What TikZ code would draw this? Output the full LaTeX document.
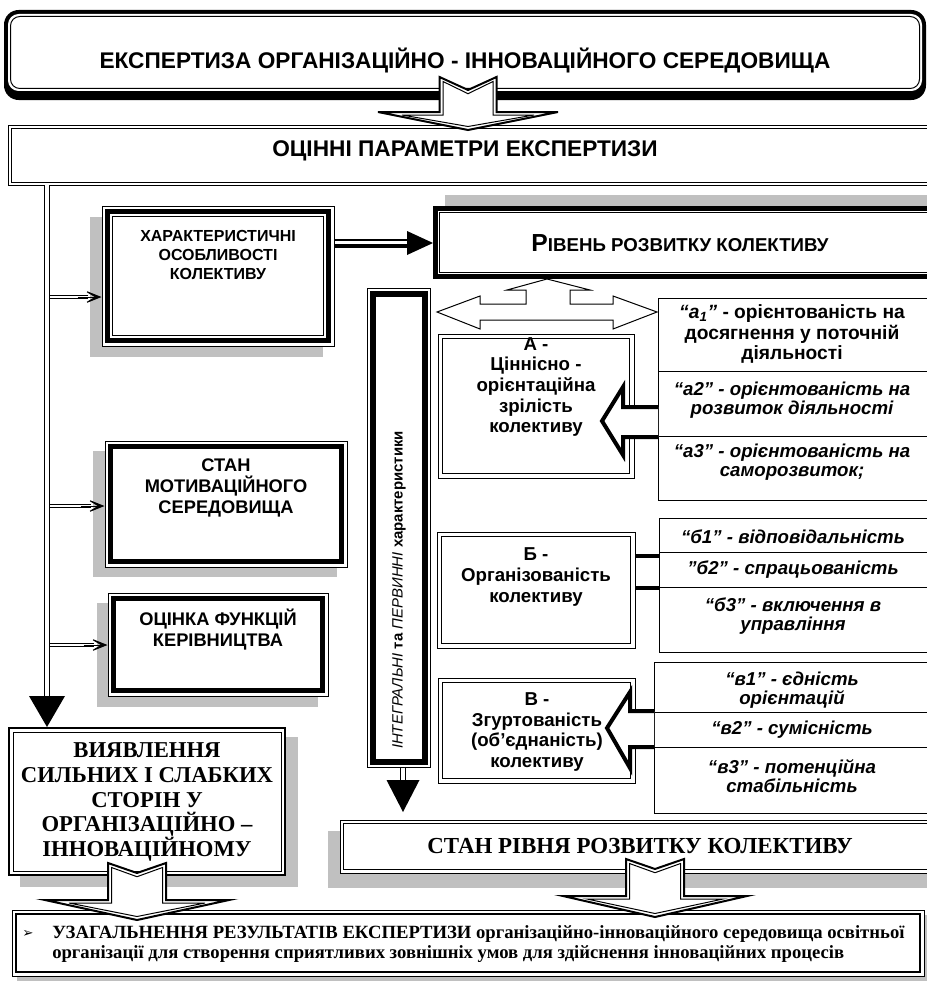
\documentclass[tikz,border=0pt]{standalone}
\usepackage{fontspec}
\setmainfont{Liberation Sans}
\newfontfamily\tms{Liberation Serif}
\newfontfamily\djv{DejaVu Sans}
\usetikzlibrary{fit,calc,arrows.meta}
\definecolor{shgray}{RGB}{192,192,192}
\newcommand\myfs[2]{\fontsize{#1}{#2}\selectfont}
\newcommand\inbox[3]{\draw[#3] ($(#1.north west)+(#2,#2)$) rectangle ($(#1.south east)+(-#2,-#2)$);}
\newcommand\blockdown[7]{%
  \draw[blk] ({#1-#6},#2) -- (#1,{#2+#3}) -- ({#1+#6},#2) -- ({#1+#6},#4) -- ({#1+#7},#4) -- (#1,#5) -- ({#1-#7},#4) -- ({#1-#6},#4) -- cycle;
  \draw[tl] ({#1-#6+3.5},{#2+4.5}) -- (#1,{#2+#3+3.7}) -- ({#1+#6-3.5},{#2+4.5}) -- ({#1+#6-3.5},{#4+3}) -- ({#1+#7-24},{#4+3}) -- (#1,{#5-3.5}) -- ({#1-#7+24},{#4+3}) -- ({#1-#6+3.5},{#4+3}) -- cycle;}
\begin{document}
\begin{tikzpicture}[x=0.75pt,y=-0.75pt,line join=miter,
  bx/.style={inner sep=0pt,draw,line width=0.75pt},
  tl/.style={line width=0.75pt},
  hv/.style={line width=3pt},
  shd/.style={fill=shgray},
  blk/.style={fill=white,draw,line width=1.5pt},
  dbl/.style={draw,line width=0.75pt,double,double distance=2.2pt},
  dbltr/.style={draw,line width=0.8pt,double,double distance=3pt},
  brtip/.style={-{Stealth[length=15pt,width=12pt,inset=10pt]},line width=0.75pt},
  hd/.style={font=\bfseries\myfs{17}{20},inner sep=0pt},
  captx/.style={font=\bfseries\myfs{13.7}{15.5},align=center,inner sep=0pt},
  bt/.style={font=\bfseries\myfs{14}{15.4},align=center,inner sep=0pt},
  tt/.style={font=\bfseries\myfs{14.4}{15.2},align=center,inner sep=0pt},
  tti/.style={font=\bfseries\itshape\myfs{14}{14.6},align=center,inner sep=0pt}]
\useasboundingbox (0,0) rectangle (926,981);
% shadows
\fill[shd] (90,217) rectangle (323,357);
\fill[shd] (445,195) rectangle (940,268);
\fill[shd] (93,451) rectangle (337,577);
\fill[shd] (97,603) rectangle (318,707);
\fill[shd] (20,737) rectangle (298,887);
\fill[shd] (328,831) rectangle (940,888);
\fill[shd] (17,915) rectangle (940,990);
% top box
\fill[rounded corners=11pt] (4,10) rectangle (926,100);
\fill[white,rounded corners=8pt] (8,14) rectangle (922,91);
\draw[tl,rounded corners=7pt] (10.5,16.5) rectangle (919.5,88.5);
\node[fit={(4,10)(926,100)},inner sep=0pt] (top) {};
\node[hd] (toptx) at (465,60) {ЕКСПЕРТИЗА ОРГАНІЗАЦІЙНО - ІННОВАЦІЙНОГО СЕРЕДОВИЩА};
% assessment parameters
\node[bx,fill=white,fit={(8,125)(940,185)}] (ocin) {};
\inbox{ocin}{3.5}{tl}
\node[hd] (ocintx) at (465,151) {ОЦІННІ ПАРАМЕТРИ ЕКСПЕРТИЗИ};
% characteristic features
\node[bx,fill=white,fit={(102,206)(334,346)}] (hx) {};
\inbox{hx}{5.8}{line width=3.5pt}
\inbox{hx}{11}{tl}
\node[font=\bfseries\myfs{12}{14.6},align=center,inner sep=0pt] (hxtx) at (218,255) {ХАРАКТЕРИСТИЧНІ\\ОСОБЛИВОСТІ\\КОЛЕКТИВУ};
% level of development
\node[fill=white,draw,line width=3.75pt,inner sep=0pt,fit={(435.5,208.5)(945,276.5)}] (riv) {};
\inbox{riv}{6.5}{tl}
\node[font=\bfseries,inner sep=0pt] (rivtx) at (680,243) {{\myfs{18.5}{20}Р}{\myfs{14}{16}ІВЕНЬ РОЗВИТКУ КОЛЕКТИВУ}};
% arrow hx -> riv
\coordinate (h1) at (334,243);
\draw[line width=1pt] ($(hx.east |- h1)+(0,-3)$) -- ($(riv.west |- h1)+(-20,-3)$);
\draw[line width=3pt] ($(hx.east |- h1)+(0,2.5)$) -- ($(riv.west |- h1)+(-20,2.5)$);
\fill ($(riv.west |- h1)+(-26,-12)$) -- (riv.west |- h1) -- ($(riv.west |- h1)+(-26,12)$) -- cycle;
% integral box
\node[bx,fill=white,fit={(367,288)(430,767)}] (intg) {};
\inbox{intg}{6}{line width=4.5pt}
\node[rotate=90,font=\myfs{11.2}{13},inner sep=0pt] (intgtx) at (399,590) {\textit{ІНТЕГРАЛЬНІ} \textbf{та} \textit{ПЕРВИННІ} \textbf{характеристики}};
\coordinate (ia) at (403,812);
\draw[dbltr] (intg.south -| ia) -- ($(ia)+(0,-30)$);
\fill ($(ia)+(-16.5,-32)$) -- (ia) -- ($(ia)+(16.5,-32)$) -- cycle;
% double arrow under level box
\draw[tl,fill=white] (547,279) -- (590,290) -- (570,290) -- (570,304) -- (613,304) -- (613,296) -- (657,312) -- (613,329) -- (613,320) -- (480,320) -- (480,329) -- (437,312) -- (480,296) -- (480,304) -- (526,304) -- (526,290) -- (507,290) -- cycle;
% table a
\node[bx,fit={(658,298)(940,500)}] (atab) {};
\draw[tl] (658,371) -- (940,371);
\draw[tl] (658,436) -- (940,436);
\node[tt] (a1) at (792,334) {\textit{“а\textsubscript{1}”} - орієнтованість на\\досягнення у поточній\\діяльності};
\node[tti] (a2) at (792,400) {“а2” - орієнтованість на\\розвиток діяльності};
\node[tti] (a3) at (792,462) {“а3” - орієнтованість на\\саморозвиток;};
% box A
\node[bx,fill=white,fit={(438,334)(634,478)}] (A) {};
\inbox{A}{5}{line width=1pt}
\node[bt] (Atx) at (536,387) {А -\\Ціннісно -\\орієнтаційна\\зрілість\\колективу};
\draw[line width=3pt,fill=white] (658,407) -- (623,407) -- (623,387) -- (602,421) -- (623,455) -- (623,437) -- (658,437);
% box B
\node[bx,fill=white,fit={(437,532)(635,648)}] (B) {};
\inbox{B}{5}{line width=1.3pt}
\node[bt] (Btx) at (536,577) {Б -\\Організованість\\колективу};
\node[bx,fit={(659,518)(940,652)}] (btab) {};
\draw[tl] (659,552) -- (940,552);
\draw[tl] (659,587) -- (940,587);
\node[tti] (b1) at (793,537) {“б1” - відповідальність};
\node[tti] (b2) at (793,570) {"б2” - спрацьованість};
\node[tti] (b3) at (793,616) {“б3” - включення в\\управління};
\coordinate (bc1) at (640,556);
\coordinate (bc2) at (640,588);
\draw[hv] (B.east |- bc1) -- (btab.west |- bc1);
\draw[hv] (B.east |- bc2) -- (btab.west |- bc2);
% box V
\node[bx,fill=white,fit={(438,678)(635,783)}] (V) {};
\inbox{V}{5}{line width=1.3pt}
\node[bt] (Vtx) at (537,732) {В -\\Згуртованість\\(об'єднаність)\\колективу};
\node[bx,fit={(654,662)(940,813)}] (vtab) {};
\draw[tl] (654,712) -- (940,712);
\draw[tl] (654,747) -- (940,747);
\node[tti] (v1) at (792,690) {“в1” - єдність\\орієнтацій};
\node[tti] (v2) at (792,730) {“в2” - сумісність};
\node[tti] (v3) at (792,776) {“в3” - потенційна\\стабільність};
\draw[line width=3pt,fill=white] (654,711) -- (630,711) -- (630,692) -- (607,728) -- (630,768) -- (630,747) -- (654,747);
% left column
\node[bx,fill=white,fit={(105,441)(347,567)}] (mot) {};
\inbox{mot}{5.8}{line width=3.5pt}
\node[captx] (mottx) at (226,488) {СТАН\\МОТИВАЦІЙНОГО\\СЕРЕДОВИЩА};
\node[bx,fill=white,fit={(108,593)(328,696)}] (ocf) {};
\inbox{ocf}{6}{line width=3.5pt}
\node[captx] (ocftx) at (218,629.5) {ОЦІНКА ФУНКЦІЙ\\КЕРІВНИЦТВА};
% strengths and weaknesses
\node[draw,line width=1.5pt,fill=white,inner sep=0pt,fit={(9,728)(285,875)}] (vy) {};
\inbox{vy}{5}{tl}
\node[font=\tms\bfseries\myfs{17}{18.4},align=center,inner sep=0pt] (vytx) at (147,802) {ВИЯВЛЕННЯ\\СИЛЬНИХ І СЛАБКИХ\\СТОРІН У\\ОРГАНІЗАЦІЙНО –\\ІННОВАЦІЙНОМУ};
% trunk
\coordinate (tr0) at (47,185);
\coordinate (tr1) at (47,700);
\draw[dbltr] (tr0) -- (tr1);
\fill ($(vy.north -| tr1)+(-18,-31)$) -- (vy.north -| tr1) -- ($(vy.north -| tr1)+(18,-31)$) -- cycle;
\coordinate (br1) at (50,297);
\coordinate (br2) at (50,506);
\coordinate (br3) at (50,645);
\draw[dbl] (br1) -- ($(br1 -| hx.west)+(-14,0)$);
\draw[brtip] ($(br1 -| hx.west)+(-24,0)$) -- (br1 -| hx.west);
\draw[dbl] (br2) -- ($(br2 -| mot.west)+(-14,0)$);
\draw[brtip] ($(br2 -| mot.west)+(-24,0)$) -- (br2 -| mot.west);
\draw[dbl] (br3) -- ($(br3 -| ocf.west)+(-14,0)$);
\draw[brtip] ($(br3 -| ocf.west)+(-24,0)$) -- (br3 -| ocf.west);
% state of level
\node[bx,fill=white,fit={(340,820)(940,873)}] (srr) {};
\inbox{srr}{4}{tl}
\node[font=\tms\bfseries\myfs{17.2}{18},inner sep=0pt] (srrtx) at (640,846) {СТАН РІВНЯ РОЗВИТКУ КОЛЕКТИВУ};
% final box
\node[bx,fill=white,fit={(12,910)(924,976)}] (fin) {};
\inbox{fin}{4.5}{line width=1pt}
\node[font=\tms\bfseries\myfs{14}{15},align=left,anchor=west,inner sep=0pt] (fintx) at (52,944) {УЗАГАЛЬНЕННЯ РЕЗУЛЬТАТІВ ЕКСПЕРТИЗИ організаційно-інноваційного середовища освітньої\\організації для створення сприятливих зовнішніх умов для здійснення інноваційних процесів};
\node[font=\djv\myfs{10}{12},inner sep=0pt] (bul) at (28,934) {➢};
% block arrows
\blockdown{468}{77}{13}{112}{130}{28.5}{90}
\blockdown{137}{863}{10}{900}{920}{29}{92}
\blockdown{655}{859}{10}{896}{917}{29}{92}
\end{tikzpicture}
\end{document}
